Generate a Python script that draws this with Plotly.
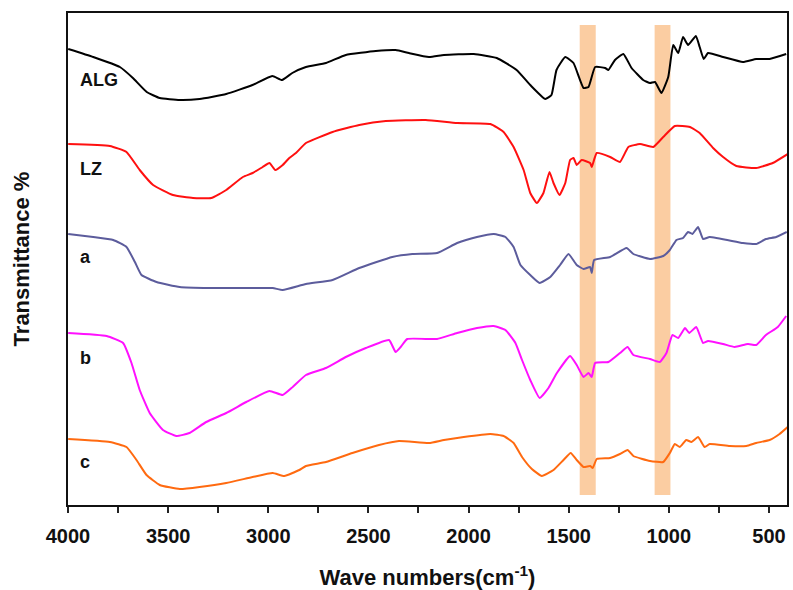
import plotly.graph_objects as go

# ---- data (wavenumber cm-1, offset transmittance, arbitrary units) ----
alg_w = [3999, 3874, 3741, 3676, 3607, 3542, 3442, 3343, 3210, 3079, 2980, 2931, 2880, 2812, 2712, 2613,
         2463, 2364, 2298, 2198, 2123, 1974, 1859, 1760, 1692, 1617, 1586, 1561, 1517, 1476, 1426, 1401,
         1368, 1318, 1302, 1269, 1227, 1186, 1128, 1094, 1069, 1037, 1003, 978, 953, 929, 904, 865, 846,
         826, 804, 729, 630, 564, 497, 414]
alg_t = [456, 448, 438, 427, 413, 407, 405, 406, 411, 420, 429, 425, 432, 438, 442, 450,
         454, 455, 452, 448, 450, 451, 447, 435, 420, 406, 410, 435, 448, 442, 417, 418,
         438, 437, 435, 445, 451, 437, 425, 422, 423, 412, 428, 460, 452, 468, 460, 469, 458,
         446, 452, 448, 443, 446, 446, 451]

lz_w = [3999, 3791, 3708, 3642, 3575, 3476, 3376, 3285, 3210, 3127, 3078, 3028, 2994, 2965, 2928, 2895,
        2862, 2812, 2679, 2546, 2413, 2214, 2057, 1891, 1825, 1775, 1725, 1692, 1659, 1626, 1596, 1576,
        1546, 1517, 1493, 1476, 1460, 1435, 1393, 1385, 1360, 1293, 1244, 1202, 1144, 1078, 1028, 970,
        895, 846, 779, 729, 663, 564, 481, 406]
lz_t = [361, 359, 353, 335, 320, 310, 307, 307, 315, 328, 332, 338, 342, 335, 340, 347,
        352, 362, 373, 380, 384, 385, 382, 381, 373, 358, 335, 312, 302, 312, 333, 322,
        310, 322, 345, 347, 340, 345, 342, 338, 352, 348, 343, 358, 361, 358, 368, 379,
        378, 372, 357, 348, 339, 337, 342, 351]

a_w = [3999, 3874, 3774, 3708, 3666, 3633, 3558, 3442, 3293, 3127, 2978, 2928, 2812, 2679, 2546, 2381,
       2281, 2157, 2057, 1958, 1874, 1816, 1775, 1741, 1692, 1645, 1592, 1543, 1501, 1460, 1426, 1393,
       1385, 1373, 1293, 1211, 1177, 1094, 1028, 995, 962, 929, 904, 882, 854, 829, 796, 630, 564,
       515, 464, 411]
a_t = [271, 268, 265, 258, 243, 230, 223, 218, 217, 217, 217, 215, 221, 225, 237, 248,
       251, 252, 262, 268, 271, 268, 258, 240, 230, 222, 228, 240, 251, 240, 236, 238,
       232, 245, 248, 257, 251, 246, 249, 255, 265, 267, 273, 271, 278, 266, 268, 262, 261,
       266, 268, 273]

b_w = [3999, 3807, 3725, 3683, 3642, 3592, 3526, 3459, 3393, 3310, 3210, 3110, 2994, 2928, 2878, 2812,
       2712, 2613, 2513, 2397, 2364, 2339, 2306, 2198, 2157, 2057, 1958, 1874, 1816, 1766, 1733, 1692,
       1645, 1601, 1559, 1493, 1460, 1426, 1401, 1385, 1368, 1302, 1244, 1206, 1177, 1094, 1045, 1012,
       982, 953, 919, 898, 863, 829, 804, 729, 671, 605, 564, 515, 456, 414]
b_t = [172, 169, 162, 142, 115, 92, 75, 69, 72, 83, 92, 103, 114, 110, 118, 130,
       137, 148, 157, 165, 153, 158, 166, 166, 166, 172, 177, 179, 175, 162, 145, 125,
       107, 117, 132, 149, 140, 128, 132, 128, 142, 143, 152, 158, 150, 146, 143, 152,
       170, 167, 177, 172, 178, 162, 164, 161, 158, 161, 160, 170, 178, 189]

c_w = [3999, 3791, 3708, 3658, 3608, 3542, 3442, 3343, 3210, 3078, 2978, 2920, 2845, 2812, 2712, 2580,
       2447, 2347, 2198, 2123, 2024, 1891, 1825, 1775, 1733, 1684, 1634, 1576, 1526, 1490, 1460, 1426,
       1393, 1380, 1360, 1293, 1244, 1206, 1177, 1094, 1028, 995, 970, 945, 913, 887, 854, 821, 796,
       696, 613, 564, 497, 447, 406]
c_t = [66, 63, 58, 45, 30, 20, 16, 18, 22, 28, 32, 29, 35, 39, 43, 52,
       60, 64, 62, 65, 68, 71, 69, 62, 48, 36, 29, 35, 45, 52, 45, 38,
       39, 37, 46, 47, 51, 55, 49, 44, 43, 52, 61, 58, 65, 63, 68, 58, 61,
       59, 59, 62, 65, 71, 78]

series_names = ["ALG", "LZ", "a", "b", "c"]
series_colors = ["#000000", "#ff1010", "#5c5c9c", "#ff10ff", "#ff6a10"]
label_y = [425, 336, 248, 147, 43]

band_ranges = [(1445, 1365), (1071, 992)]
band_y = (10, 480)

tick_vals = [4000, 3500, 3000, 2500, 2000, 1500, 1000, 500]

xs = [alg_w, lz_w, a_w, b_w, c_w]
ys = [alg_t, lz_t, a_t, b_t, c_t]

FONT = "Liberation Sans, Arial, sans-serif"

fig = go.Figure()
for name, col, w, t in zip(series_names, series_colors, xs, ys):
    fig.add_trace(go.Scatter(x=w, y=t, mode="lines", name=name,
                             line=dict(color=col, width=2, shape="spline", smoothing=0.4),
                             showlegend=False, hoverinfo="skip"))

for x0, x1 in band_ranges:
    fig.add_shape(type="rect", xref="x", yref="y", x0=x0, x1=x1, y0=band_y[0], y1=band_y[1],
                  fillcolor="#fbcda2", line=dict(width=0), layer="below")

for name, yv in zip(series_names, label_y):
    fig.add_annotation(x=3950, y=yv, text="<b>%s</b>" % name, showarrow=False,
                       xanchor="left", yanchor="middle",
                       font=dict(family=FONT, size=18, color="#111111"))

fig.update_layout(
    width=793, height=590,
    margin=dict(l=68, r=4, t=13, b=85),
    paper_bgcolor="white", plot_bgcolor="white",
    font=dict(family=FONT, color="#111111"),
)
fig.update_xaxes(
    range=[4000, 410], tickvals=tick_vals, ticktext=["<b>%d</b>" % v for v in tick_vals],
    ticks="outside", ticklen=6, tickwidth=2, tickcolor="#222222",
    minor=dict(dtick=250, tick0=0, ticks="outside", ticklen=6, tickwidth=2, tickcolor="#222222"),
    tickfont=dict(size=20, family=FONT),
    ticklabelstandoff=6,
    showline=True, linecolor="#111111", linewidth=2, mirror=True,
    showgrid=False, zeroline=False,
    title=dict(text="<b>Wave numbers(cm<sup>-1</sup>)</b>", standoff=24,
               font=dict(size=22, family=FONT)),
)
fig.update_yaxes(
    range=[0, 492], showticklabels=False, ticks="",
    showline=True, linecolor="#111111", linewidth=2, mirror=True,
    showgrid=False, zeroline=False,
    title=dict(text="<b>Transmittance %</b>", standoff=30,
               font=dict(size=22, family=FONT)),
)

fig.write_html("out.html")
